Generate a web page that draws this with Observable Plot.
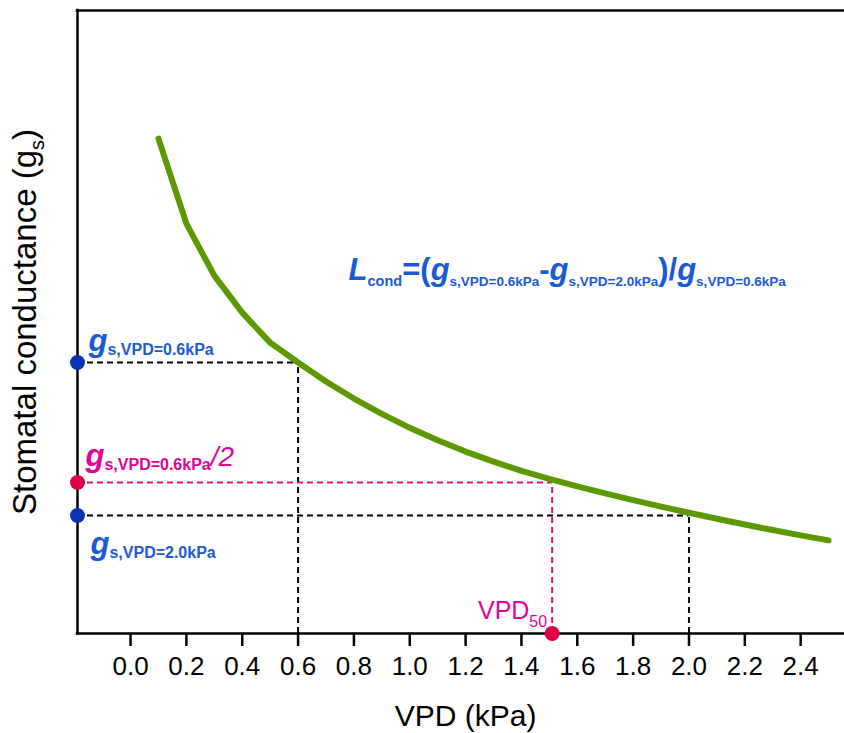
<!DOCTYPE html>
<html>
<head>
<meta charset="utf-8">
<script src="https://cdn.jsdelivr.net/npm/d3@7"></script>
<script src="https://cdn.jsdelivr.net/npm/@observablehq/plot@0.6"></script>
<style>
  html, body { margin: 0; padding: 0; background: #fff; }
  svg { display: block; }
</style>
</head>
<body>
<div id="chart"></div>
<script>
// ---- data ----
const vpd = [0.1, 0.2, 0.3, 0.4, 0.5, 0.6, 0.7, 0.8, 0.9, 1.0, 1.1, 1.2, 1.3, 1.4, 1.5, 1.6, 1.7, 1.8, 1.9, 2.0, 2.1, 2.2, 2.3, 2.4, 2.5];
const gs  = [1.933, 1.579, 1.362, 1.208, 1.083, 1.000, 0.921, 0.850, 0.786, 0.728, 0.676, 0.629, 0.587, 0.549, 0.515, 0.484, 0.455, 0.427, 0.400, 0.374, 0.349, 0.325, 0.302, 0.280, 0.259];
const xTicks = [0.0, 0.2, 0.4, 0.6, 0.8, 1.0, 1.2, 1.4, 1.6, 1.8, 2.0, 2.2, 2.4];
const vpdRef = 0.6;     // reference VPD
const vpdHigh = 2.0;    // high VPD
const vpd50 = 1.51;     // VPD50
const gsRef = 1.0;      // gs at VPD = 0.6 kPa
const gsHigh = 0.3625;  // gs at VPD = 2.0 kPa
const gsHalf = gsRef / 2;
const xDomain = [-0.19, 2.557];
const yDomain = [-0.129, 2.467];

// ---- styles ----
const green = "#5c9800";
const blueText = "#1a5ad4";
const blueDot = "#0a32b4";
const magentaText = "#e2009a";
const pinkDot = "#dc0046";
const pinkLine = "#e8145a";
const FONT = "'Liberation Sans', Arial, Helvetica, sans-serif";

const curve = vpd.map((v, i) => ({vpd: v, gs: gs[i]}));
const xmin = xDomain[0], ybot = yDomain[0], ytop = yDomain[1];

// rich-text annotations (keys replaced by tspans after render)
const sub06 = "s,VPD=0.6kPa", sub20 = "s,VPD=2.0kPa";
const rich = [
  {key: "LBL_REF", x: xmin, y: gsRef, dx: 11, dy: -12, anchor: "start", fill: blueText,
   parts: [["g", 31, "bold", "italic", 0], [sub06, 16, "bold", "normal", 4]]},
  {key: "LBL_HALF", x: xmin, y: gsHalf, dx: 8, dy: -17, anchor: "start", fill: magentaText,
   parts: [["g", 31, "bold", "italic", 0], [sub06, 16, "bold", "normal", 4], ["/2", 28, "normal", "italic", 0]]},
  {key: "LBL_HIGH", x: xmin, y: gsHigh, dx: 13, dy: 38, anchor: "start", fill: blueText,
   parts: [["g", 31, "bold", "italic", 0], [sub20, 16, "bold", "normal", 4]]},
  {key: "LBL_V50", x: vpd50, y: ybot, dx: -5, dy: -15, anchor: "end", fill: magentaText,
   parts: [["VPD", 25, "normal", "normal", 0], ["50", 16, "normal", "normal", 8]]},
  {key: "LBL_FORM", x: 0.781, y: 1.342, dx: 0, dy: 0, anchor: "start", fill: blueText,
   parts: [["L", 31, "bold", "italic", 0], ["cond", 14.5, "bold", "normal", 6],
           ["=(", 31, "bold", "normal", 0], ["g", 31, "bold", "italic", 0], [sub06, 13.5, "bold", "normal", 6],
           ["-", 31, "bold", "normal", 0], ["g", 31, "bold", "italic", 0], [sub20, 13.5, "bold", "normal", 6],
           [")/", 31, "bold", "normal", 0], ["g", 31, "bold", "italic", 0], [sub06, 13.5, "bold", "normal", 6]]}
];
const yLabel = {key: "LBL_Y", parts: [["Stomatal conductance (g", 33, "normal", "normal", 0], ["s", 20, "normal", "normal", 8], [")", 33, "normal", "normal", 0]]};

const dash = "6,4";

const plot = Plot.plot({
  width: 844,
  height: 733,
  marginLeft: 77,
  marginRight: 0,
  marginTop: 10,
  marginBottom: 100,
  x: {domain: xDomain},
  y: {domain: yDomain, axis: null},
  style: {fontFamily: FONT, background: "white", color: "black", overflow: "visible"},
  marks: [
    // dashed guide lines
    Plot.ruleY([{y: gsRef, x2: vpdRef}, {y: gsHigh, x2: vpdHigh}], {y: "y", x1: xmin, x2: "x2", stroke: "black", strokeWidth: 2, strokeDasharray: dash}),
    Plot.ruleX([{x: vpdRef, y2: gsRef}, {x: vpdHigh, y2: gsHigh}], {x: "x", y1: ybot, y2: "y2", stroke: "black", strokeWidth: 2, strokeDasharray: dash}),
    Plot.ruleY([{y: gsHalf, x2: vpd50}], {y: "y", x1: xmin, x2: "x2", stroke: pinkLine, strokeWidth: 2, strokeDasharray: dash}),
    Plot.ruleX([{x: vpd50, y2: gsHalf}], {x: "x", y1: ybot, y2: "y2", stroke: pinkLine, strokeWidth: 2, strokeDasharray: dash}),
    // curve
    Plot.line(curve, {x: "vpd", y: "gs", stroke: green, strokeWidth: 6, strokeLinecap: "round", strokeLinejoin: "round"}),
    // frame (top, bottom, left)
    Plot.ruleY([ytop, ybot], {stroke: "black", strokeWidth: 2.5, strokeLinecap: "square"}),
    Plot.ruleX([xmin], {stroke: "black", strokeWidth: 2.5, strokeLinecap: "square"}),
    // x axis
    Plot.axisX({ticks: xTicks, tickFormat: d3.format(".1f"), tickSize: 13, tickPadding: 10, fontSize: 26, strokeWidth: 2.5, label: null, fill: "black"}),
    Plot.text(["VPD (kPa)"], {x: () => 1.2, y: () => ybot, dy: 92, text: d => d, fontSize: 30, textAnchor: "middle", lineAnchor: "bottom", fill: "black"}),
    Plot.text([yLabel], {frameAnchor: "left", dx: -42, rotate: -90, text: "key", textAnchor: "middle", lineAnchor: "bottom", fill: "black"}),
    // points
    Plot.dot([{x: xmin, y: gsRef}, {x: xmin, y: gsHigh}], {x: "x", y: "y", r: 7.5, fill: blueDot, stroke: "none"}),
    Plot.dot([{x: xmin, y: gsHalf}, {x: vpd50, y: ybot}], {x: "x", y: "y", r: 7.5, fill: pinkDot, stroke: "none"}),
    // annotation labels
    ...rich.map(a => Plot.text([a], {x: "x", y: "y", text: "key", dx: a.dx, dy: a.dy, textAnchor: a.anchor, lineAnchor: "bottom", fill: a.fill}))
  ]
});

// convert annotation keys into rich text with tspans
const byKey = new Map([...rich, yLabel].map(a => [a.key, a]));
d3.select(plot).selectAll("text").each(function () {
  const a = byKey.get(this.textContent);
  if (!a) return;
  this.textContent = "";
  let cur = 0;
  for (const [t, size, weight, style, shift] of a.parts) {
    const ts = d3.select(this).append("tspan").text(t)
      .attr("font-size", size).attr("font-weight", weight).attr("font-style", style);
    if (shift !== cur) ts.attr("dy", shift - cur);
    cur = shift;
  }
});

document.getElementById("chart").appendChild(plot);
</script>
</body>
</html>
